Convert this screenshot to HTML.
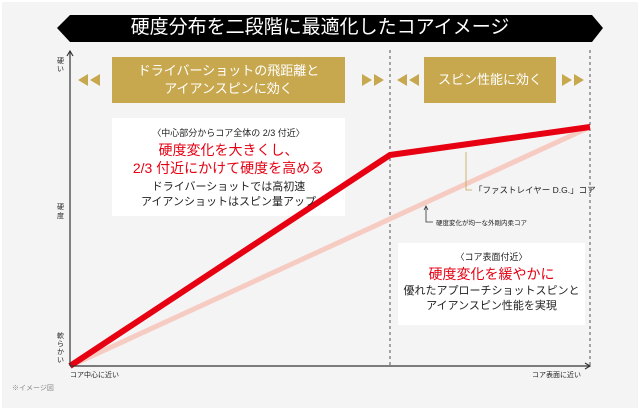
<!DOCTYPE html>
<html><head><meta charset="utf-8"><style>
body{margin:0;width:640px;height:410px;background:#fff;overflow:hidden;font-family:"Liberation Sans","Noto Sans CJK JP",sans-serif}
.bg{position:absolute;left:2px;top:2px;width:636px;height:406px;background:#f4f4f4}
.t{position:absolute;white-space:nowrap}
</style></head><body>
<div class="bg"></div>
<svg width="640" height="410" style="position:absolute;left:0;top:0">
<polygon points="57,28 70,15 592,15 603,28 592,42 70,42" fill="#000"/>
<rect x="112" y="57" width="233" height="46" fill="#c8a84e"/>
<rect x="424" y="57" width="132" height="46" fill="#c8a84e"/>
<g fill="#c8a84e">
<polygon points="78,80 88,74 88,86"/><polygon points="90,80 100,74 100,86"/>
<polygon points="372,80 362,74 362,86"/><polygon points="384,80 374,74 374,86"/>
<polygon points="397,80 407,74 407,86"/><polygon points="409,80 419,74 419,86"/>
<polygon points="572,80 562,74 562,86"/><polygon points="584,80 574,74 574,86"/>
</g>
<rect x="112" y="118" width="233" height="98" fill="#fff"/>
<rect x="398" y="243" width="187" height="82" fill="#fff"/>
<line x1="390" y1="50" x2="390" y2="366" stroke="#555" stroke-dasharray="3,3" stroke-width="1"/>
<line x1="590" y1="50" x2="590" y2="366" stroke="#555" stroke-dasharray="3,3" stroke-width="1"/>
<line x1="70" y1="366" x2="590" y2="127" stroke="#f6cbc2" stroke-width="5"/>
<polyline points="70,366 390,155 590,127" fill="none" stroke="#e60012" stroke-width="6" stroke-linejoin="round"/>
<line x1="70" y1="366" x2="70" y2="51" stroke="#333" stroke-width="1.2"/>
<polyline points="67,56 70,51 73,56" fill="none" stroke="#333" stroke-width="1.2"/>
<line x1="70" y1="366" x2="590" y2="366" stroke="#333" stroke-width="1.2"/>
<polyline points="585,363 590,366 585,369" fill="none" stroke="#333" stroke-width="1.2"/>
<polyline points="466,152 466,190 472,190" fill="none" stroke="#c4a54e" stroke-width="0.8"/>
<polyline points="426,207 426,222 433,222" fill="none" stroke="#333" stroke-width="0.8"/>
<polyline points="424,210 426,206 428,210" fill="none" stroke="#333" stroke-width="0.8"/>
</svg>
<div class="t" style="left:0;width:640px;top:15px;text-align:center;color:#fff;font-size:19px;line-height:26px">硬度分布を二段階に最適化したコアイメージ</div>
<div class="t" style="left:112px;width:233px;top:62px;text-align:center;color:#fff;font-size:13px;line-height:18px">ドライバーショットの飛距離と<br>アイアンスピンに効く</div>
<div class="t" style="left:424px;width:132px;top:71px;text-align:center;color:#fff;font-size:13px;line-height:18px">スピン性能に効く</div>
<div class="t" style="left:112px;width:233px;top:126px;text-align:center;color:#222;font-size:9px">〈中心部分からコア全体の 2/3 付近〉</div>
<div class="t" style="left:112px;width:233px;top:141px;text-align:center;color:#e60012;font-size:14px;line-height:18px">硬度変化を大きくし、<br>2/3 付近にかけて硬度を高める</div>
<div class="t" style="left:112px;width:233px;top:180px;text-align:center;color:#222;font-size:11px;line-height:15px">ドライバーショットでは高初速<br>アイアンショットはスピン量アップ</div>
<div class="t" style="left:398px;width:187px;top:250px;text-align:center;color:#222;font-size:9px">〈コア表面付近〉</div>
<div class="t" style="left:398px;width:187px;top:264px;text-align:center;color:#e60012;font-size:14px">硬度変化を緩やかに</div>
<div class="t" style="left:398px;width:187px;top:284px;text-align:center;color:#222;font-size:11px;line-height:15px">優れたアプローチショットスピンと<br>アイアンスピン性能を実現</div>
<div class="t" style="left:474px;top:184px;color:#222;font-size:8.5px">「ファストレイヤー D.G.」コア</div>
<div class="t" style="left:436px;top:217px;color:#222;font-size:6.5px">硬度変化が均一な外剛内柔コア</div>
<div class="t" style="left:57px;top:58px;width:10px;color:#222;font-size:7px;line-height:8px">硬<br>い</div>
<div class="t" style="left:57px;top:203px;width:10px;color:#222;font-size:7px;line-height:9px">硬<br>度</div>
<div class="t" style="left:57px;top:333px;width:10px;color:#222;font-size:7px;line-height:8px">軟<br>ら<br>か<br>い</div>
<div class="t" style="left:70px;top:370px;color:#222;font-size:7px">コア中心に近い</div>
<div class="t" style="left:532px;top:370px;color:#222;font-size:7px">コア表面に近い</div>
<div class="t" style="left:12px;top:383px;color:#888;font-size:7px">※イメージ図</div>
</body></html>
